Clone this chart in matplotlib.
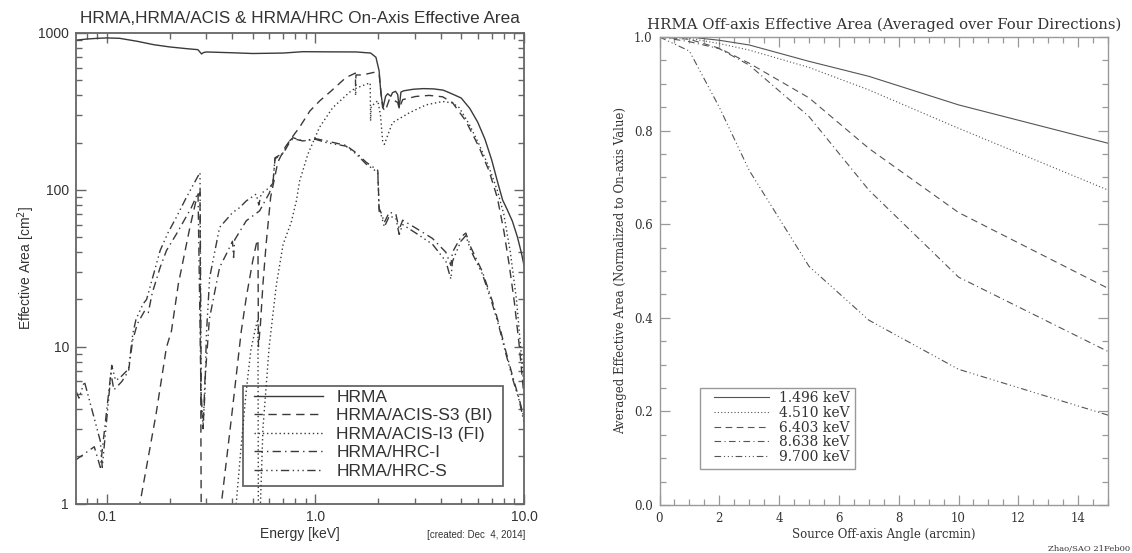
import numpy as np
import matplotlib
matplotlib.use("Agg")
import matplotlib.pyplot as plt
from matplotlib.patches import Rectangle
from matplotlib.ticker import LogLocator, MultipleLocator, FixedLocator, NullFormatter

# ---- left panel: on-axis effective area (energy keV, area cm^2) ----
hrma_e = [0.0711, 0.08, 0.09, 0.1, 0.115, 0.14, 0.168, 0.2, 0.24, 0.273, 0.2845, 0.29, 0.3,
          0.4, 0.5, 0.7, 0.87, 1.2, 1.57, 1.84, 1.95, 2.02, 2.06, 2.11, 2.17, 2.22, 2.3, 2.34,
          2.42, 2.48, 2.52, 2.57, 2.65, 2.95, 3.3, 3.7, 4.1, 4.5, 5.0, 5.5, 6.0, 6.5, 7.0, 7.5,
          7.9, 8.3, 8.8, 9.3, 9.7, 10.0]
hrma_a = [900, 915, 925, 930, 925, 885, 842, 815, 795, 783, 735, 750, 757,
          748, 740, 745, 760, 758, 757, 745, 700, 573, 410, 335, 395, 410, 395, 416,
          425, 405, 333, 420, 428, 438, 442, 440, 432, 410, 385, 330, 270, 210, 155, 110,
          86, 75, 63, 50, 40, 33]

acis_s3_e = [0.13, 0.144, 0.172, 0.193, 0.204, 0.22, 0.25, 0.27, 0.2795, 0.2845, 0.33, 0.354,
             0.40, 0.441, 0.466, 0.50, 0.52, 0.530, 0.533, 0.545, 0.56, 0.58, 0.61, 0.66, 0.716,
             0.78, 0.838, 0.94, 1.05, 1.19, 1.40, 1.51, 1.553, 1.558, 1.565, 1.68, 1.84, 1.95,
             2.02, 2.07, 2.1, 2.16, 2.26, 2.4, 2.48, 2.52, 2.62, 3.03, 3.51, 4.07, 4.54, 5.26,
             6.09, 6.8, 7.45, 8.0, 8.5, 9.0, 9.5, 10.0]
acis_s3_a = [0.5, 1.0, 3.7, 9.9, 12.6, 25, 57.6, 90, 96, 0.2, 0.3, 1.0,
             4.0, 12.6, 20.6, 35, 45, 48, 10, 14, 25, 45, 90, 150, 187,
             220, 250, 318, 370, 427, 520, 545, 555, 460, 540, 540, 555, 565,
             545, 400, 334, 318, 376, 370, 360, 330, 376, 394, 400, 392, 360, 275,
             187, 132, 89, 55, 33, 19, 10, 4.8]

acis_i3_e = [0.40, 0.417, 0.44, 0.466, 0.49, 0.515, 0.530, 0.533, 0.537, 0.545, 0.56, 0.6,
             0.65, 0.70, 0.765, 0.81, 0.84, 0.92, 1.045, 1.21, 1.45, 1.55, 1.558, 1.565,
             1.78, 1.83, 1.838, 1.85, 1.99, 2.05, 2.10, 2.14, 2.34, 2.82, 3.39, 4.07, 4.54,
             4.89, 5.46, 6.09, 6.8, 7.45, 8.0, 8.6, 9.2, 9.7, 10.0]
acis_i3_a = [0.3, 1.0, 2.3, 5.25, 9.5, 13, 15, 0.5, 0.5, 1.0, 3.0, 10,
             25, 45, 62, 85, 114, 169, 250, 334, 417, 445, 400, 445,
             475, 480, 275, 340, 370, 300, 205, 195, 268, 310, 348, 366, 358,
             334, 262, 195, 139, 99, 70, 40, 20, 9, 5.5]

hrc_i_e = [0.0711, 0.087, 0.093, 0.1045, 0.108, 0.118, 0.127, 0.133, 0.14, 0.152, 0.158,
           0.165, 0.18, 0.193, 0.215, 0.254, 0.2735, 0.2835, 0.29, 0.295, 0.31, 0.347, 0.374,
           0.40, 0.405, 0.41, 0.466, 0.54, 0.60, 0.625, 0.64, 0.70, 0.75, 0.78, 0.87, 1.0,
           1.13, 1.4, 1.57, 1.75, 1.99, 2.02, 2.06, 2.14, 2.26, 2.43, 2.52, 2.62, 3.03, 3.64,
           4.22, 4.46, 4.54, 4.98, 5.26, 5.56, 6.32, 7.05, 7.6, 8.19, 8.87, 9.5, 10.0]
hrc_i_a = [1.9, 2.3, 1.7, 6.8, 5.3, 6.0, 7.0, 11, 14, 17, 16.5,
           22, 32, 41, 52, 77, 96, 4, 3.2, 6, 15, 32, 39,
           47, 37, 48, 63.5, 73.5, 95, 109, 158, 170, 200, 212, 205, 212,
           205, 192, 172, 150, 133, 76, 72, 62, 72, 70, 56, 64, 57, 49,
           40, 33, 40, 50, 53, 43, 30, 19.5, 13.8, 9.3, 6.3, 4.6, 3.5]

hrc_s_e = [0.0711, 0.0735, 0.078, 0.093, 0.095, 0.1055, 0.11, 0.115, 0.127, 0.133, 0.138,
           0.149, 0.155, 0.18, 0.196, 0.215, 0.24, 0.2795, 0.2835, 0.289, 0.295, 0.30, 0.311,
           0.347, 0.40, 0.433, 0.466, 0.52, 0.535, 0.55, 0.60, 0.625, 0.64, 0.70, 0.75, 0.78,
           0.87, 1.0, 1.13, 1.4, 1.57, 1.75, 1.99, 2.02, 2.06, 2.14, 2.26, 2.43, 2.52, 2.62,
           3.03, 3.64, 4.22, 4.46, 4.54, 4.98, 5.26, 5.56, 6.32, 7.05, 7.6, 8.19, 8.87, 9.5, 10.0]
hrc_s_a = [5.2, 4.7, 6.0, 2.5, 1.7, 7.6, 6.1, 6.3, 7.2, 12, 15,
           18.7, 20, 41, 53, 66.6, 89, 129, 5, 3.0, 5, 12, 27.6,
           57.6, 71.5, 77, 85, 94, 80, 95, 103, 110, 160, 172, 205, 215,
           205, 210, 200, 190, 169, 146, 129, 73, 70, 58, 68, 66, 52, 60,
           53, 45, 35, 27, 35, 47, 51, 41, 29, 18.7, 13.3, 9.0, 6.1, 4.5, 3.3]

left_labels = ["HRMA", "HRMA/ACIS-S3 (BI)", "HRMA/ACIS-I3 (FI)", "HRMA/HRC-I", "HRMA/HRC-S"]

# ---- right panel: off-axis effective area, normalised ----
off_axis = [0, 1, 2, 3, 5, 7, 10, 15]
frac_1496 = [1.0, 1.0, 0.993, 0.983, 0.948, 0.916, 0.855, 0.773]
frac_4510 = [1.0, 0.997, 0.986, 0.972, 0.935, 0.887, 0.805, 0.673]
frac_6403 = [1.0, 0.995, 0.976, 0.944, 0.87, 0.762, 0.625, 0.463]
frac_8638 = [1.0, 0.99, 0.975, 0.94, 0.83, 0.673, 0.487, 0.328]
frac_9700 = [1.0, 0.97, 0.85, 0.715, 0.51, 0.395, 0.29, 0.192]
right_labels = ["1.496 keV", "4.510 keV", "6.403 keV", "8.638 keV", "9.700 keV"]

solid = "-"
dashed = (0, (6, 4))
dotted = (0, (1, 2))
dashdot = (0, (6, 3, 1, 3))
dash3dot = (0, (6, 2.5, 1, 2.5, 1, 2.5, 1, 2.5))

fig = plt.figure(figsize=(11.32, 5.53), dpi=100)

# left panel
ink = "#3a3a3a"
frame = "#666666"
ax1 = fig.add_axes([76 / 1132, 1 - 503.5 / 553, 448 / 1132, 470.5 / 553])
curves = [(hrma_e, hrma_a), (acis_s3_e, acis_s3_a), (acis_i3_e, acis_i3_a),
          (hrc_i_e, hrc_i_a), (hrc_s_e, hrc_s_a)]
for (e, a), ls, lab in zip(curves, [solid, dashed, dotted, dashdot, dash3dot], left_labels):
    ax1.plot(e, a, color=ink, lw=1.0, ls=ls, label=lab)
ax1.set_xscale("log")
ax1.set_yscale("log")
ax1.set_xlim(0.0711, 10)
ax1.set_ylim(1, 1000)
ax1.xaxis.set_major_locator(FixedLocator([0.1, 1.0, 10.0]))
ax1.set_xticklabels(["0.1", "1.0", "10.0"])
ax1.xaxis.set_minor_locator(LogLocator(base=10, subs=np.arange(2, 10)))
ax1.xaxis.set_minor_formatter(NullFormatter())
ax1.yaxis.set_major_locator(FixedLocator([1, 10, 100, 1000]))
ax1.set_yticklabels(["1", "10", "100", "1000"])
ax1.yaxis.set_minor_locator(LogLocator(base=10, subs=np.arange(2, 10)))
ax1.yaxis.set_minor_formatter(NullFormatter())
for sp in ax1.spines.values():
    sp.set_color(frame)
    sp.set_linewidth(1.3)
ax1.tick_params(which="both", direction="in", top=True, right=True, color=frame,
                labelcolor="#333333", labelsize=10, pad=5)
ax1.tick_params(which="major", length=7, width=1.0)
ax1.tick_params(which="minor", length=4, width=1.0)
for t in ax1.get_xticklabels() + ax1.get_yticklabels():
    t.set_family("Liberation Sans")
ax1.set_title("HRMA,HRMA/ACIS & HRMA/HRC On-Axis Effective Area", family="Liberation Sans",
              fontsize=12.3, color="#333333", pad=7)
ax1.set_xlabel("Energy [keV]", family="Liberation Sans", fontsize=10, color="#333333", labelpad=2)
ax1.set_ylabel("Effective Area [cm$^2$]", family="Liberation Sans", fontsize=10,
               color="#333333", labelpad=1)
ax1.add_patch(Rectangle((0.373, 0.037), 0.58, 0.213, transform=ax1.transAxes, fill=False,
                        edgecolor=frame, lw=1.3))
leg1 = ax1.legend(loc="upper left", bbox_to_anchor=(0.397, 0.242), frameon=False,
                  prop={"family": "Liberation Sans", "size": 12.5}, handlelength=4.0,
                  handletextpad=0.75, labelspacing=0.19, borderpad=0, borderaxespad=0)
for t in leg1.get_texts():
    t.set_color("#333333")
fig.text(525 / 1132, 1 - 535 / 553, "[created: Dec  4, 2014]", ha="right", va="center",
         family="Liberation Sans", fontsize=7, color="#333333")

# right panel
ink2 = "#555555"
frame2 = "#999999"
ax2 = fig.add_axes([659.5 / 1132, 1 - 505 / 553, 448.5 / 1132, 468 / 553])
fracs = [frac_1496, frac_4510, frac_6403, frac_8638, frac_9700]
for f, ls, lab in zip(fracs, [solid, dotted, dashed, dashdot, dash3dot], right_labels):
    ax2.plot(off_axis, f, color=ink2, lw=0.8, ls=ls, label=lab)
ax2.set_xlim(0, 15)
ax2.set_ylim(0, 1.0)
ax2.xaxis.set_major_locator(FixedLocator(np.arange(0, 15, 2)))
ax2.xaxis.set_minor_locator(MultipleLocator(0.5))
ax2.yaxis.set_major_locator(MultipleLocator(0.2))
ax2.yaxis.set_minor_locator(MultipleLocator(0.05))
ax2.yaxis.set_major_formatter(plt.FuncFormatter(lambda v, p: "%.1f" % v))
for sp in ax2.spines.values():
    sp.set_color(frame2)
    sp.set_linewidth(1.0)
ax2.tick_params(which="both", direction="in", top=True, right=True, color=frame2,
                labelcolor="#333333", labelsize=8.5, pad=5)
ax2.tick_params(which="major", length=7, width=0.9)
ax2.tick_params(which="minor", length=4, width=0.9)
for t in ax2.get_xticklabels() + ax2.get_yticklabels():
    t.set_family("DejaVu Serif")
ax2.set_title("HRMA Off-axis Effective Area (Averaged over Four Directions)",
              family="DejaVu Serif", fontsize=10.7, color="#333333", pad=6)
ax2.set_xlabel("Source Off-axis Angle (arcmin)", family="DejaVu Serif", fontsize=8.5,
               color="#333333", labelpad=2)
ax2.set_ylabel("Averaged Effective Area (Normalized to On-axis Value)", family="DejaVu Serif",
               fontsize=8.5, color="#333333", labelpad=5)
ax2.add_patch(Rectangle((0.0903, 0.077), 0.3456, 0.173, transform=ax2.transAxes, fill=False,
                        edgecolor=frame2, lw=1.0))
leg2 = ax2.legend(loc="upper left", bbox_to_anchor=(0.121, 0.243), frameon=False,
                  prop={"family": "DejaVu Serif", "size": 10}, handlelength=4.0,
                  handletextpad=0.7, labelspacing=0.05, borderpad=0, borderaxespad=0)
for t in leg2.get_texts():
    t.set_color("#333333")
fig.text(1130 / 1132, 1 - 549 / 553, "Zhao/SAO 21Feb00", ha="right", va="center",
         family="DejaVu Serif", fontsize=6, color="#333333")

fig.savefig("out.png", dpi=100)
